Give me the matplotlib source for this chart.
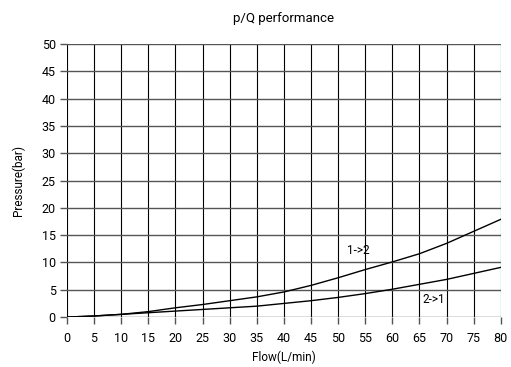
import matplotlib
matplotlib.use("Agg")
from matplotlib import pyplot as plt

flow = [0, 5, 10, 15, 20, 25, 30, 35, 40, 45, 50, 55, 60, 65, 70, 75, 80]
p_12 = [0, 0.2, 0.5, 1.0, 1.7, 2.3, 3.0, 3.7, 4.6, 5.8, 7.2, 8.7, 10.1, 11.6, 13.5, 15.7, 17.9]
p_21 = [0, 0.2, 0.5, 0.8, 1.1, 1.4, 1.7, 2.0, 2.5, 3.0, 3.6, 4.3, 5.1, 6.0, 6.9, 8.0, 9.1]

plt.rcParams['font.family'] = ['Roboto', 'DejaVu Sans']

fig = plt.figure(figsize=(5.11, 3.67), dpi=100)
ax = fig.add_axes([0.131, 0.136, 0.849, 0.744])

ax.plot(flow, p_12, color='black', linewidth=1.0)
ax.plot(flow, p_21, color='black', linewidth=1.0)

ax.text(53.8, 12.2, "1->2", fontsize=8.5, va='center', ha='center')
ax.text(67.6, 3.3, "2->1", fontsize=8.5, va='center', ha='center')

ax.set_xlim(0, 80)
ax.set_ylim(0, 50)
ax.set_xticks(range(0, 81, 5))
ax.set_yticks(range(0, 51, 5))
for x in range(0, 81, 5):
    ax.axvline(x, color='black', linewidth=0.8, zorder=0)
for y in range(0, 51, 5):
    ax.axhline(y, color='#555555', linewidth=1.0, zorder=0)

for s in ax.spines.values():
    s.set_visible(False)
ax.tick_params(axis='both', length=5, width=1, color='#555555', labelsize=9, pad=3)
ax.tick_params(axis='x', pad=6)

ax.set_xlabel("Flow(L/min)", fontsize=8.5)
ax.set_ylabel("Pressure(bar)", fontsize=8.5, labelpad=12)
ax.set_title("p/Q performance", fontsize=9.5, pad=16)

fig.savefig("out.png", dpi=100)
